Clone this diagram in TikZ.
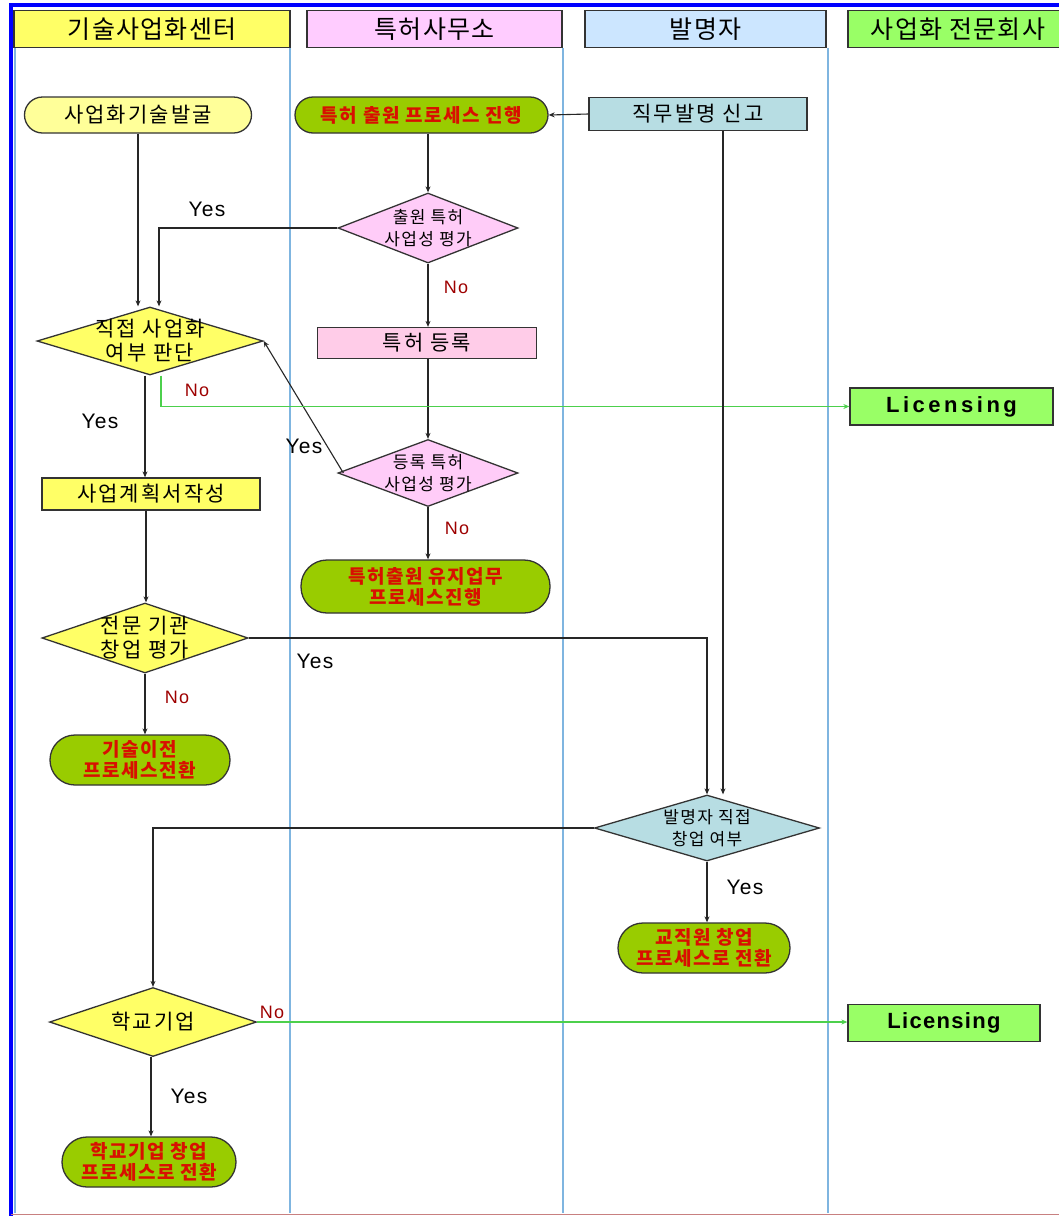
\documentclass[tikz,border=0pt]{standalone}
\usepackage{fontspec}
\setmainfont{Liberation Sans}
\newfontfamily\krhead[LetterSpace=5]{Noto Sans CJK KR}
\newfontfamily\krbody[LetterSpace=10]{Noto Sans CJK KR}
\newfontfamily\krsmall[LetterSpace=8]{Noto Sans CJK KR}
\newfontfamily\krbold[LetterSpace=8]{Noto Sans CJK KR}
\newfontfamily\lablat[LetterSpace=6]{Liberation Sans}
\newfontfamily\licwide[LetterSpace=16]{Liberation Sans}
\newfontfamily\licnarrow[LetterSpace=6]{Liberation Sans}
\usetikzlibrary{shapes.geometric,shapes.misc,arrows.meta}

\definecolor{hdrYellow}{HTML}{FFFF66}
\definecolor{hdrPink}{HTML}{FFCCFF}
\definecolor{hdrBlue}{HTML}{CCE6FF}
\definecolor{hdrGreen}{HTML}{99FF66}
\definecolor{startYellow}{HTML}{FFFF99}
\definecolor{endGreen}{HTML}{99CC00}
\definecolor{tealFill}{HTML}{B7DDE3}
\definecolor{pinkDia}{HTML}{FFCCF8}
\definecolor{pinkBox}{HTML}{FFCCE8}
\definecolor{yelFill}{HTML}{FFFF66}
\definecolor{licFill}{HTML}{99FF66}
\definecolor{laneCol}{HTML}{7FB5E0}
\definecolor{frameCol}{HTML}{0000FF}
\definecolor{greenLink}{HTML}{4CD04C}
\definecolor{noCol}{HTML}{9E0000}
\definecolor{redText}{HTML}{D81000}
\definecolor{edgeCol}{HTML}{333333}
\definecolor{baseCol}{HTML}{C88080}

\begin{document}
\begin{tikzpicture}[x=1pt,y=-1pt,
  box/.style={draw=edgeCol, line width=1.3pt, inner sep=0pt},
  hdr/.style={box, rectangle, minimum height=37pt, font=\krhead\fontsize{25}{28}\selectfont},
  proc/.style={box, rectangle, font=\krbody\fontsize{21}{24}\selectfont},
  term/.style={box, rectangle, rounded corners=#1},
  goaltext/.style={inner sep=0pt, align=center, text=redText,
                   font=\krbold\bfseries\fontsize{19}{21}\selectfont},
  dec/.style={box, diamond},
  dtext/.style={inner sep=0pt, align=center, font=\krsmall\fontsize{17}{22}\selectfont},
  dtextbig/.style={inner sep=0pt, align=center, font=\krbody\fontsize{21}{24}\selectfont},
  lic/.style={box, rectangle, fill=licFill, font=\bfseries\fontsize{22}{24}\selectfont},
  arr/.style={-{Stealth[length=6pt,width=5pt]}, line width=1.1pt, draw=black!85},
  glink/.style={arr, draw=greenLink, line width=1.3pt},
  yes/.style={inner sep=0pt, font=\lablat\fontsize{21}{24}\selectfont},
  no/.style={inner sep=0pt, text=noCol, font=\lablat\fontsize{18}{22}\selectfont}]

\useasboundingbox (0,0) rectangle (1059,1216);
\fill[white] (0,0) rectangle (1059,1216);

% swim-lane separators
\foreach \lx in {15,290,563,828}
  \draw[laneCol, line width=2pt] (\lx,48) -- (\lx,1213);

% outer frame
\draw[frameCol, line width=3.5pt] (11,1216) -- (11,5) -- (1059,5);
\draw[baseCol, line width=1.5pt] (11,1214.5) -- (1059,1214.5);

% lane headers
\node[hdr, fill=hdrYellow, minimum width=276pt] (h1) at (152,29) {기술사업화센터};
\node[hdr, fill=hdrPink,   minimum width=255pt] (h2) at (434.5,29) {특허사무소};
\node[hdr, fill=hdrBlue,   minimum width=241pt] (h3) at (705.5,29) {발명자};
\node[hdr, fill=hdrGreen,  minimum width=220pt] (h4) at (958,29) {사업화 전문회사};

% process shapes
\node[term=18pt, fill=startYellow, minimum width=227pt, minimum height=36pt,
      font=\krbody\fontsize{21}{24}\selectfont] (n1) at (138,115) {사업화기술발굴};
\node[term=18pt, fill=endGreen, minimum width=253pt, minimum height=36pt] (n2) at (421.5,115) {};
\node[goaltext] (n2t) at (n2) {특허 출원 프로세스 진행};
\node[proc, fill=tealFill, minimum width=218pt, minimum height=33pt] (n3) at (698,114) {직무발명 신고};

\node[dec, fill=pinkDia, minimum width=180pt, minimum height=70pt] (d1) at (428,228) {};
\node[dtext] (d1t) at (d1) {출원 특허\\사업성 평가};

\node[dec, fill=yelFill, minimum width=226pt, minimum height=68pt] (d2) at (150,341) {};
\node[dtextbig] (d2t) at (d2) {직접 사업화\\여부 판단};

\node[proc, fill=pinkBox, minimum width=219pt, minimum height=31pt] (r2) at (427,343) {특허 등록};

\node[lic, minimum width=203pt, minimum height=37pt] (L1) at (951.5,406.5) {\licwide Licensing};

\node[dec, fill=pinkDia, minimum width=180pt, minimum height=67pt] (d3) at (428,473) {};
\node[dtext] (d3t) at (d3) {등록 특허\\사업성 평가};

\node[proc, fill=yelFill, minimum width=218pt, minimum height=32pt] (r3) at (151,494) {사업계획서작성};

\node[term=26pt, fill=endGreen, minimum width=249pt, minimum height=53pt] (s2) at (425.5,586.5) {};
\node[goaltext] (s2t) at (s2) {특허출원 유지업무\\프로세스진행};

\node[dec, fill=yelFill, minimum width=206pt, minimum height=70pt] (d4) at (145,638) {};
\node[dtextbig] (d4t) at (d4) {전문 기관\\창업 평가};

\node[term=25pt, fill=endGreen, minimum width=180pt, minimum height=50pt] (s3) at (140,760) {};
\node[goaltext] (s3t) at (s3) {기술이전\\프로세스전환};

\node[dec, fill=tealFill, minimum width=225pt, minimum height=66pt] (d5) at (707,828) {};
\node[dtext] (d5t) at (d5) {발명자 직접\\창업 여부};

\node[term=25pt, fill=endGreen, minimum width=172pt, minimum height=50pt] (s4) at (704,948) {};
\node[goaltext] (s4t) at (s4) {교직원 창업\\프로세스로 전환};

\node[dec, fill=yelFill, minimum width=207pt, minimum height=69pt] (d6) at (153,1022) {};
\node[dtextbig] (d6t) at (d6) {학교기업};

\node[lic, minimum width=192pt, minimum height=37pt] (L2) at (944,1023) {\licnarrow Licensing};

\node[term=25pt, fill=endGreen, minimum width=174pt, minimum height=50pt] (s5) at (149,1162) {};
\node[goaltext] (s5t) at (s5) {학교기업 창업\\프로세스로 전환};

% connectors
\draw[arr] (n1.south) -- (n1.south |- d2.north);
\draw[arr] (d1.west) -| ([xshift=9pt]d2.north);
\draw[arr] (d1.north |- n2.south) -- (d1.north);
\draw[arr] (n3.west) -- (n2.east);
\draw[arr] (d1.south) -- (d1.south |- r2.north);
\draw[arr] (d3.north |- r2.south) -- (d3.north);
\draw[arr] ([xshift=6pt]d3.west) -- (d2.east);
\draw[arr] (d3.south) -- (d3.south |- s2.north);
\draw[arr] ([xshift=-5pt]d2.south) -- ([xshift=-5pt]d2.south |- r3.north);
\draw[glink] ([xshift=11pt]d2.south) |- (L1.west);
\draw[arr] ([xshift=-5pt]r3.south) -- ([xshift=-5pt]r3.south |- d4.north);
\draw[arr] (d4.east) -| (d5.north);
\draw[arr] (d4.south) -- (d4.south |- s3.north);
\draw[arr] ([xshift=25pt]n3.south) -- ([xshift=25pt]n3.south |- d5.north);
\draw[arr] (d5.west) -| (d6.north);
\draw[arr] (d5.south) -- (d5.south |- s4.north);
\draw[glink] (d6.east) -- (d6.east -| L2.west);
\draw[arr] ([xshift=-2pt]d6.south) -- ([xshift=-2pt]d6.south |- s5.north);

% branch labels
\node[yes] (y1) at (207,209) {Yes};
\node[no]  (o1) at (456,287) {No};
\node[yes] (y2) at (100,421) {Yes};
\node[no]  (o2) at (197,390) {No};
\node[yes] (y3) at (304,446) {Yes};
\node[no]  (o3) at (457,528) {No};
\node[yes] (y4) at (315,661) {Yes};
\node[no]  (o4) at (177,697) {No};
\node[yes] (y5) at (745,887) {Yes};
\node[no]  (o5) at (272,1012) {No};
\node[yes] (y6) at (189,1096) {Yes};
\end{tikzpicture}
\end{document}
